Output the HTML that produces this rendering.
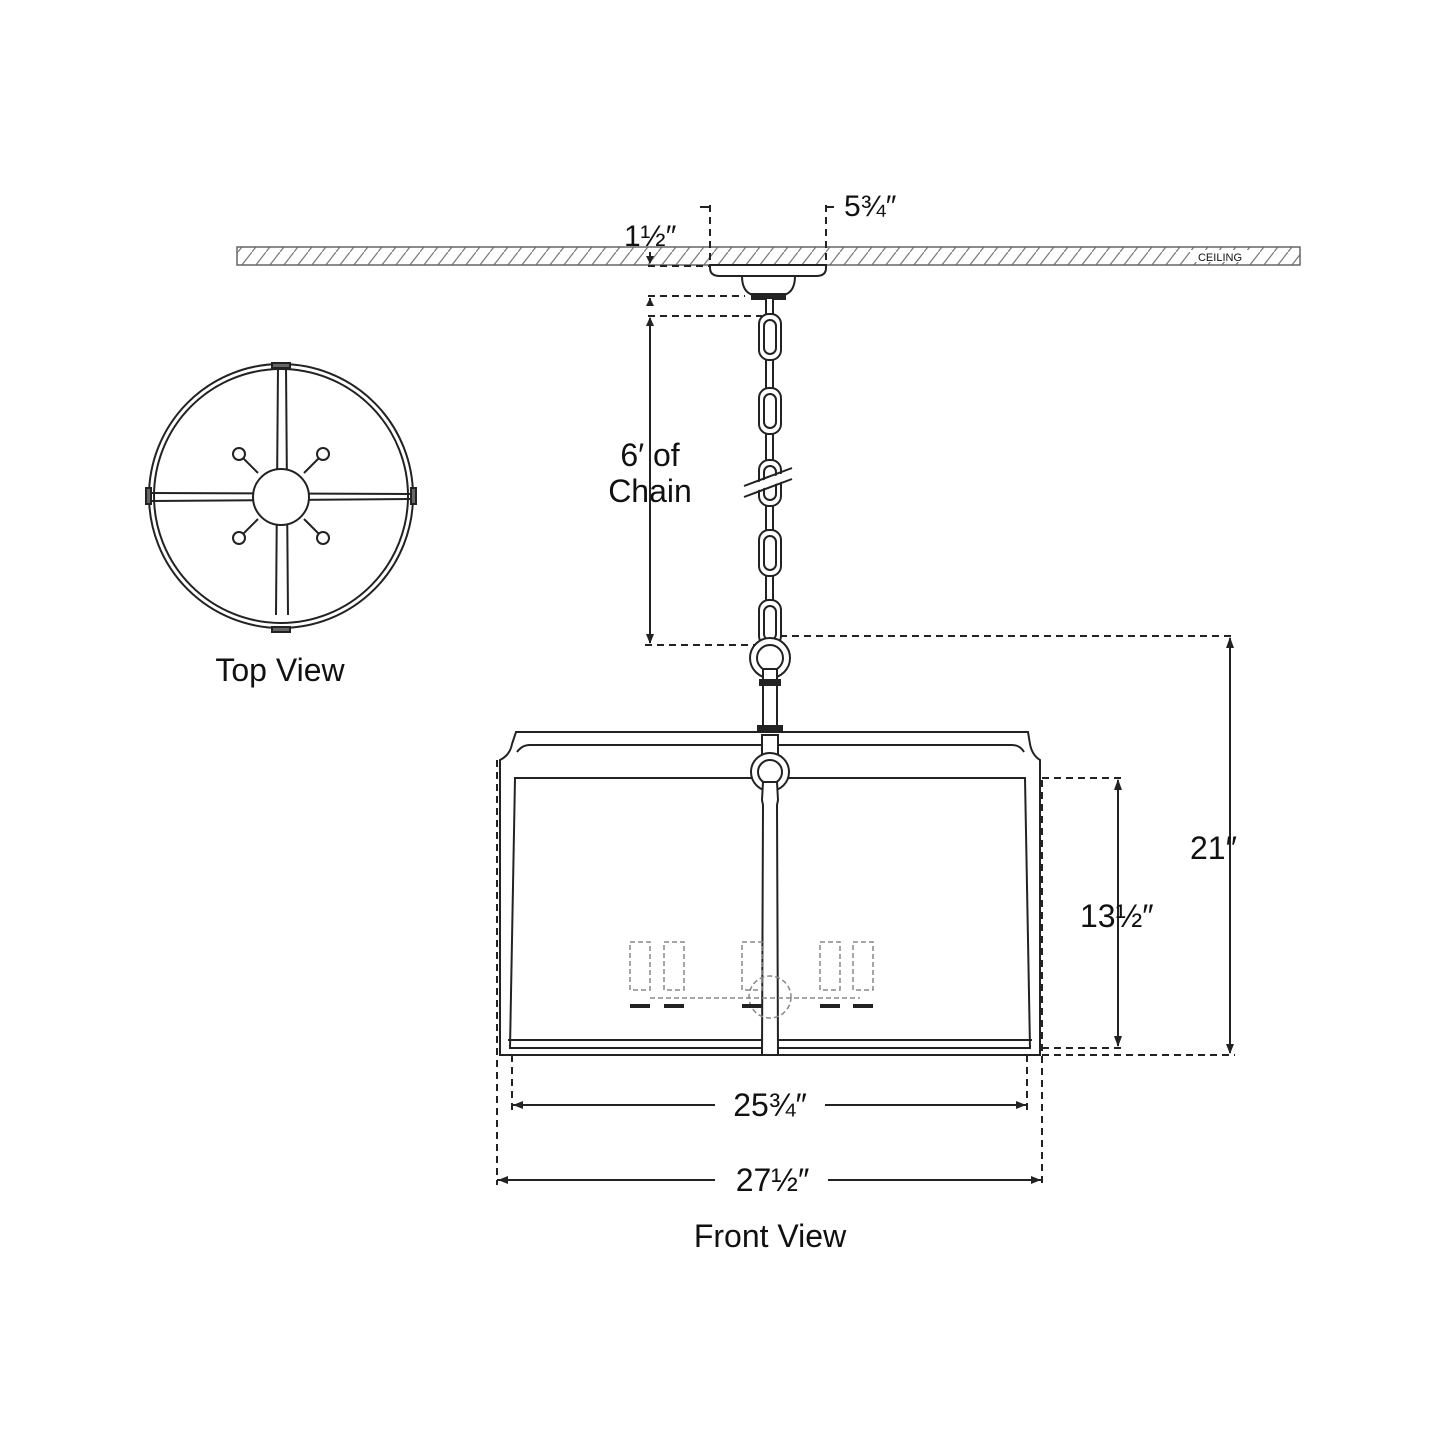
<!DOCTYPE html>
<html><head><style>
html,body{margin:0;padding:0;background:#fff;}
svg{display:block;}
text{font-family:"Liberation Sans",sans-serif;fill:#111;}
</style></head><body>
<svg width="1445" height="1445" viewBox="0 0 1445 1445" xmlns="http://www.w3.org/2000/svg">
<defs>
<pattern id="h" width="14" height="18" patternUnits="userSpaceOnUse">
<line x1="0" y1="18" x2="14" y2="0" stroke="#777" stroke-width="1.2"/>
</pattern>
</defs>
<g fill="none" stroke="#222" stroke-width="2">
<rect x="237" y="247" width="1063" height="18" fill="url(#h)" stroke="#666" stroke-width="1.5"/>
<rect x="1190" y="250" width="60" height="12" fill="#fff" stroke="none"/>
</g>
<text x="1220" y="261" font-size="11" text-anchor="middle" fill="#777">CEILING</text>
<g fill="#fff" stroke="#222" stroke-width="2">
<path d="M710 265 H826 V268 Q826 276 816 276 H720 Q710 276 710 268 Z"/>
<path d="M742 276 H795 Q795 292 784 295 H753 Q742 292 742 276 Z"/>
<rect x="752" y="294" width="33" height="5" fill="#222"/>
</g>
<g stroke="#222" stroke-width="2" stroke-dasharray="7,5" fill="none">
<line x1="710" y1="205" x2="710" y2="265"/>
<line x1="826" y1="205" x2="826" y2="265"/>
<line x1="648" y1="266" x2="710" y2="266"/>
<line x1="648" y1="296" x2="745" y2="296"/>
<line x1="648" y1="316" x2="762" y2="316"/>
<line x1="645" y1="645" x2="757" y2="645"/>
<line x1="780" y1="636" x2="1235" y2="636"/>
<line x1="1030" y1="778" x2="1125" y2="778"/>
<line x1="1030" y1="1048" x2="1125" y2="1048"/>
<line x1="1030" y1="1055" x2="1235" y2="1055"/>
<line x1="497" y1="760" x2="497" y2="1185"/>
<line x1="1042" y1="780" x2="1042" y2="1185"/>
<line x1="512" y1="1055" x2="512" y2="1110"/>
<line x1="1027" y1="1055" x2="1027" y2="1110"/>
</g>
<g stroke="#222" stroke-width="2" fill="none">
<line x1="700" y1="207" x2="710" y2="207"/>
<line x1="826" y1="207" x2="834" y2="207"/>
<line x1="650" y1="252" x2="650" y2="263"/>
<line x1="650" y1="298" x2="650" y2="306"/>
<line x1="650" y1="318" x2="650" y2="643"/>
<line x1="1118" y1="780" x2="1118" y2="1046"/>
<line x1="1230" y1="638" x2="1230" y2="1053"/>
<line x1="512" y1="1105" x2="715" y2="1105"/>
<line x1="825" y1="1105" x2="1027" y2="1105"/>
<line x1="497" y1="1180" x2="715" y2="1180"/>
<line x1="828" y1="1180" x2="1042" y2="1180"/>
</g>
<g fill="#222">
<path d="M646 256 L654 256 L650 264Z"/>
<path d="M646 306 L654 306 L650 298Z"/>
<path d="M646 326 L654 326 L650 317Z"/>
<path d="M646 634 L654 634 L650 644Z"/>
<path d="M1114 790 L1122 790 L1118 779Z"/>
<path d="M1114 1036 L1122 1036 L1118 1047Z"/>
<path d="M1226 648 L1234 648 L1230 637Z"/>
<path d="M1226 1044 L1234 1044 L1230 1054Z"/>
<path d="M513 1105 L523 1101 L523 1109Z"/>
<path d="M1026 1105 L1016 1101 L1016 1109Z"/>
<path d="M498 1180 L508 1176 L508 1184Z"/>
<path d="M1041 1180 L1031 1176 L1031 1184Z"/>
</g>
<g stroke="#222" stroke-width="2" fill="#fff">
<rect x="766" y="298" width="7" height="340"/>
<rect x="759" y="314" width="22" height="46" rx="10"/>
<rect x="764" y="320" width="12" height="34" rx="6"/>
<rect x="759" y="388" width="22" height="46" rx="10"/>
<rect x="764" y="394" width="12" height="34" rx="6"/>
<rect x="759" y="460" width="22" height="46" rx="10"/>
<rect x="764" y="466" width="12" height="34" rx="6"/>
<rect x="759" y="530" width="22" height="46" rx="10"/>
<rect x="764" y="536" width="12" height="34" rx="6"/>
<rect x="759" y="600" width="22" height="46" rx="10"/>
<rect x="764" y="606" width="12" height="34" rx="6"/>
</g>
<polygon points="742,488 792,470 792,478 742,496" fill="#fff"/>
<g stroke="#222" stroke-width="2"><line x1="744" y1="486" x2="792" y2="468"/><line x1="744" y1="497" x2="792" y2="479"/></g>
<g stroke="#222" stroke-width="2" fill="#fff">
<circle cx="770" cy="658" r="20"/><circle cx="770" cy="658" r="13"/>
<rect x="763" y="669" width="14" height="62"/>
<rect x="760" y="680" width="20" height="5" fill="#222"/>
<rect x="758" y="726" width="24" height="7" fill="#222"/>
<path d="M516 732 H1028 L1030 744 Q1032 755 1040 760 L1040 1055 H500 V760 Q510 755 512 744 Z"/>
<path d="M517 752 Q522 745 530 745 H1012 Q1020 745 1024 752" fill="none"/>
<path d="M515 778 H1025 L1030 1048 H510 Z"/>
<line x1="508" y1="1040" x2="1032" y2="1040"/>
<rect x="762" y="735" width="16" height="20"/>
<circle cx="770" cy="772" r="19"/><circle cx="770" cy="772" r="12"/>
<path d="M763 782 H777 L778 800 L777 805 L778 1055 H762 L763 805 L762 800 Z"/>
</g>
<g stroke="#888" stroke-width="1.5" stroke-dasharray="5,3" fill="none">
<rect x="630" y="942" width="20" height="48"/><rect x="664" y="942" width="20" height="48"/>
<rect x="742" y="942" width="20" height="48"/><rect x="820" y="942" width="20" height="48"/><rect x="853" y="942" width="20" height="48"/>
<circle cx="770" cy="997" r="21"/>
<line x1="650" y1="998" x2="860" y2="998"/>
</g>
<g fill="#222">
<rect x="630" y="1004" width="20" height="4"/><rect x="664" y="1004" width="20" height="4"/>
<rect x="742" y="1004" width="20" height="4"/><rect x="820" y="1004" width="20" height="4"/><rect x="853" y="1004" width="20" height="4"/>
</g>
<g stroke="#222" stroke-width="2" fill="#fff">
<circle cx="281" cy="496" r="132"/><circle cx="281" cy="496" r="127" fill="none"/>
<path d="M278 366 L276 615 M286 366 L288 615" fill="none"/>
<path d="M152 493 L410 494 M152 501 L410 499" fill="none"/>
<line x1="258" y1="473" x2="240" y2="455"/><line x1="304" y1="473" x2="322" y2="455"/>
<line x1="258" y1="519" x2="240" y2="537"/><line x1="304" y1="519" x2="322" y2="537"/>
<circle cx="239" cy="454" r="6"/><circle cx="323" cy="454" r="6"/>
<circle cx="239" cy="538" r="6"/><circle cx="323" cy="538" r="6"/>
<circle cx="281" cy="497" r="28"/>
<rect x="272" y="363" width="18" height="5" fill="#666"/><rect x="272" y="627" width="18" height="5" fill="#666"/>
<rect x="146" y="488" width="5" height="16" fill="#666"/><rect x="411" y="488" width="5" height="16" fill="#666"/>
</g>
</svg>
<div style="position:absolute;left:0;top:0;width:1445px;height:1445px;font-family:'Liberation Sans',sans-serif;color:#111;">
<div style="position:absolute;left:844px;top:190px;font-size:30px;">5¾″</div>
<div style="position:absolute;left:624px;top:220px;font-size:30px;">1½″</div>
<div style="position:absolute;left:580px;top:437px;width:140px;text-align:center;font-size:32px;line-height:36px;">6′ of<br>Chain</div>
<div style="position:absolute;left:1190px;top:830px;font-size:32px;">21″</div>
<div style="position:absolute;left:1080px;top:898px;font-size:32px;">13½″</div>
<div style="position:absolute;left:720px;top:1087px;width:100px;text-align:center;font-size:32px;">25¾″</div>
<div style="position:absolute;left:720px;top:1162px;width:105px;text-align:center;font-size:32px;">27½″</div>
<div style="position:absolute;left:180px;top:652px;width:200px;text-align:center;font-size:32px;">Top View</div>
<div style="position:absolute;left:660px;top:1218px;width:220px;text-align:center;font-size:32px;">Front View</div>
</div>
</body></html>
